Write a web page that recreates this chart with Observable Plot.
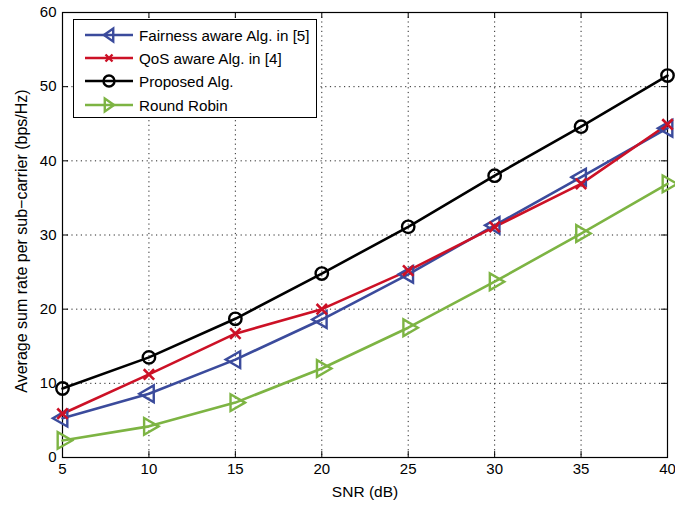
<!DOCTYPE html>
<html><head><meta charset="utf-8">
<script src="https://cdn.jsdelivr.net/npm/d3@7"></script>
<script src="https://cdn.jsdelivr.net/npm/@observablehq/plot@0.6"></script>
<style>
body{margin:0;background:#fff;}
#wrap{position:relative;width:675px;height:506px;font-family:"Liberation Sans",Arial,sans-serif;}
#legend{position:absolute;left:73px;top:19px;width:244px;height:99px;border:1.3px solid #000;background:#fff;box-sizing:border-box;}
#legend svg{position:absolute;left:0;top:0;overflow:visible;}
</style></head><body>
<div id="wrap"></div>
<script>
const snr = [5,10,15,20,25,30,35,40];
const fairness = [5.3,8.6,13.2,18.6,24.7,31.3,37.8,44.4];
const qos = [5.9,11.2,16.7,20.0,25.2,31.1,36.9,44.9];
const proposed = [9.3,13.5,18.7,24.8,31.1,38.0,44.6,51.5];
const roundRobin = [2.3,4.2,7.4,12.0,17.5,23.7,30.2,36.9];
const seriesNames = ["Fairness aware Alg. in [5]","QoS aware Alg. in [4]","Proposed Alg.","Round Robin"];
const seriesColors = ["#3B4B9C","#CC1126","#000000","#7DB443"];
const xTicks = [5,10,15,20,25,30,35,40];
const yTicks = [0,10,20,30,40,50,60];
const xLabel = "SNR (dB)";
const yLabel = "Average sum rate per sub\u2212carrier (bps/Hz)";

const all = [fairness,qos,proposed,roundRobin];
const data = [];
all.forEach((vals,i)=>vals.forEach((v,j)=>data.push({s:seriesNames[i],x:snr[j],y:v})));
const byS = n => data.filter(d=>d.s===n);

const grid = {stroke:"#000",strokeDasharray:"1.2,3.5",strokeWidth:1,strokeOpacity:0.85};
const FF = "Liberation Sans, Arial, sans-serif";
const plot = Plot.plot({
  width:675,height:506,
  marginLeft:62,marginRight:8,marginTop:12,marginBottom:49,
  style:{fontFamily:FF,fontSize:"15px",color:"#000",background:"#fff",overflow:"visible"},
  x:{domain:[5,40],axis:null},
  y:{domain:[0,60],axis:null},
  marks:[
    Plot.ruleX(xTicks.slice(1,-1),{...grid}),
    Plot.ruleY(yTicks.slice(1,-1),{...grid}),
    Plot.ruleX(xTicks,{y1:0,y2:0.8,stroke:"#000"}),
    Plot.ruleX(xTicks,{y1:59.2,y2:60,stroke:"#000"}),
    Plot.ruleY(yTicks,{x1:5,x2:5.35,stroke:"#000"}),
    Plot.ruleY(yTicks,{x1:39.65,x2:40,stroke:"#000"}),
    Plot.text(xTicks,{x:d=>d,frameAnchor:"bottom",dy:16,fontSize:15,fill:"#000",text:d=>String(d)}),
    Plot.text(yTicks,{y:d=>d,frameAnchor:"left",dx:-6,textAnchor:"end",fontSize:15,fill:"#000",text:d=>String(d)}),
    Plot.text([xLabel],{frameAnchor:"bottom",dy:39,fontSize:15.5,fill:"#000",text:d=>d}),
    Plot.text([yLabel],{frameAnchor:"left",dx:-41,dy:6,rotate:-90,textAnchor:"middle",fontSize:16,fill:"#000",text:d=>d}),
    Plot.frame({stroke:"#000",strokeWidth:1.2}),
    ...seriesNames.map((n,i)=>Plot.line(byS(n),{x:"x",y:"y",stroke:seriesColors[i],strokeWidth:2.6})),
    Plot.dot(byS(seriesNames[0]),{x:"x",y:"y",symbol:"triangle",rotate:-90,r:6.2,stroke:seriesColors[0],strokeWidth:2.4,fill:"none"}),
    Plot.dot(byS(seriesNames[1]),{x:"x",y:"y",symbol:"times",r:4.8,stroke:seriesColors[1],strokeWidth:2.6}),
    Plot.dot(byS(seriesNames[2]),{x:"x",y:"y",symbol:"circle",r:6.2,stroke:seriesColors[2],strokeWidth:2.4,fill:"none"}),
    Plot.dot(byS(seriesNames[3]),{x:"x",y:"y",symbol:"triangle",rotate:90,r:6.2,stroke:seriesColors[3],strokeWidth:2.4,fill:"none"})
  ]
});
const wrap = document.getElementById("wrap");
wrap.appendChild(plot);

// legend
const lg = document.createElement("div");
lg.id="legend";
const ns="http://www.w3.org/2000/svg";
const svg = document.createElementNS(ns,"svg");
svg.setAttribute("width",242);svg.setAttribute("height",97);
const rowsY=[15,38,61,85];
function tri(cx,cy,r,dir){
  const h=r*1.3;
  return dir<0?`M${cx-h*0.6},${cy} L${cx+h*0.5},${cy-r} L${cx+h*0.5},${cy+r} Z`:`M${cx+h*0.6},${cy} L${cx-h*0.5},${cy-r} L${cx-h*0.5},${cy+r} Z`;
}
seriesNames.forEach((n,i)=>{
  const y=rowsY[i];
  const ln=document.createElementNS(ns,"line");
  ln.setAttribute("x1",11);ln.setAttribute("x2",59);ln.setAttribute("y1",y);ln.setAttribute("y2",y);
  ln.setAttribute("stroke",seriesColors[i]);ln.setAttribute("stroke-width",2.6);
  svg.appendChild(ln);
  const cx=35;
  let m;
  if(i===0||i===3){m=document.createElementNS(ns,"path");m.setAttribute("d",tri(cx,y,6.5,i===0?-1:1));m.setAttribute("fill","none");}
  else if(i===1){m=document.createElementNS(ns,"path");m.setAttribute("d",`M${cx-3.5},${y-3.5}L${cx+3.5},${y+3.5}M${cx-3.5},${y+3.5}L${cx+3.5},${y-3.5}`);}
  else {m=document.createElementNS(ns,"circle");m.setAttribute("cx",cx);m.setAttribute("cy",y);m.setAttribute("r",5.5);m.setAttribute("fill","none");}
  m.setAttribute("stroke",seriesColors[i]);m.setAttribute("stroke-width",2.4);
  svg.appendChild(m);
  const t=document.createElementNS(ns,"text");
  t.setAttribute("x",65);t.setAttribute("y",y+5.5);t.setAttribute("font-size","15.2");
  t.setAttribute("font-family",FF);
  t.textContent=n;svg.appendChild(t);
});
lg.appendChild(svg);
wrap.appendChild(lg);
</script>
</body></html>
